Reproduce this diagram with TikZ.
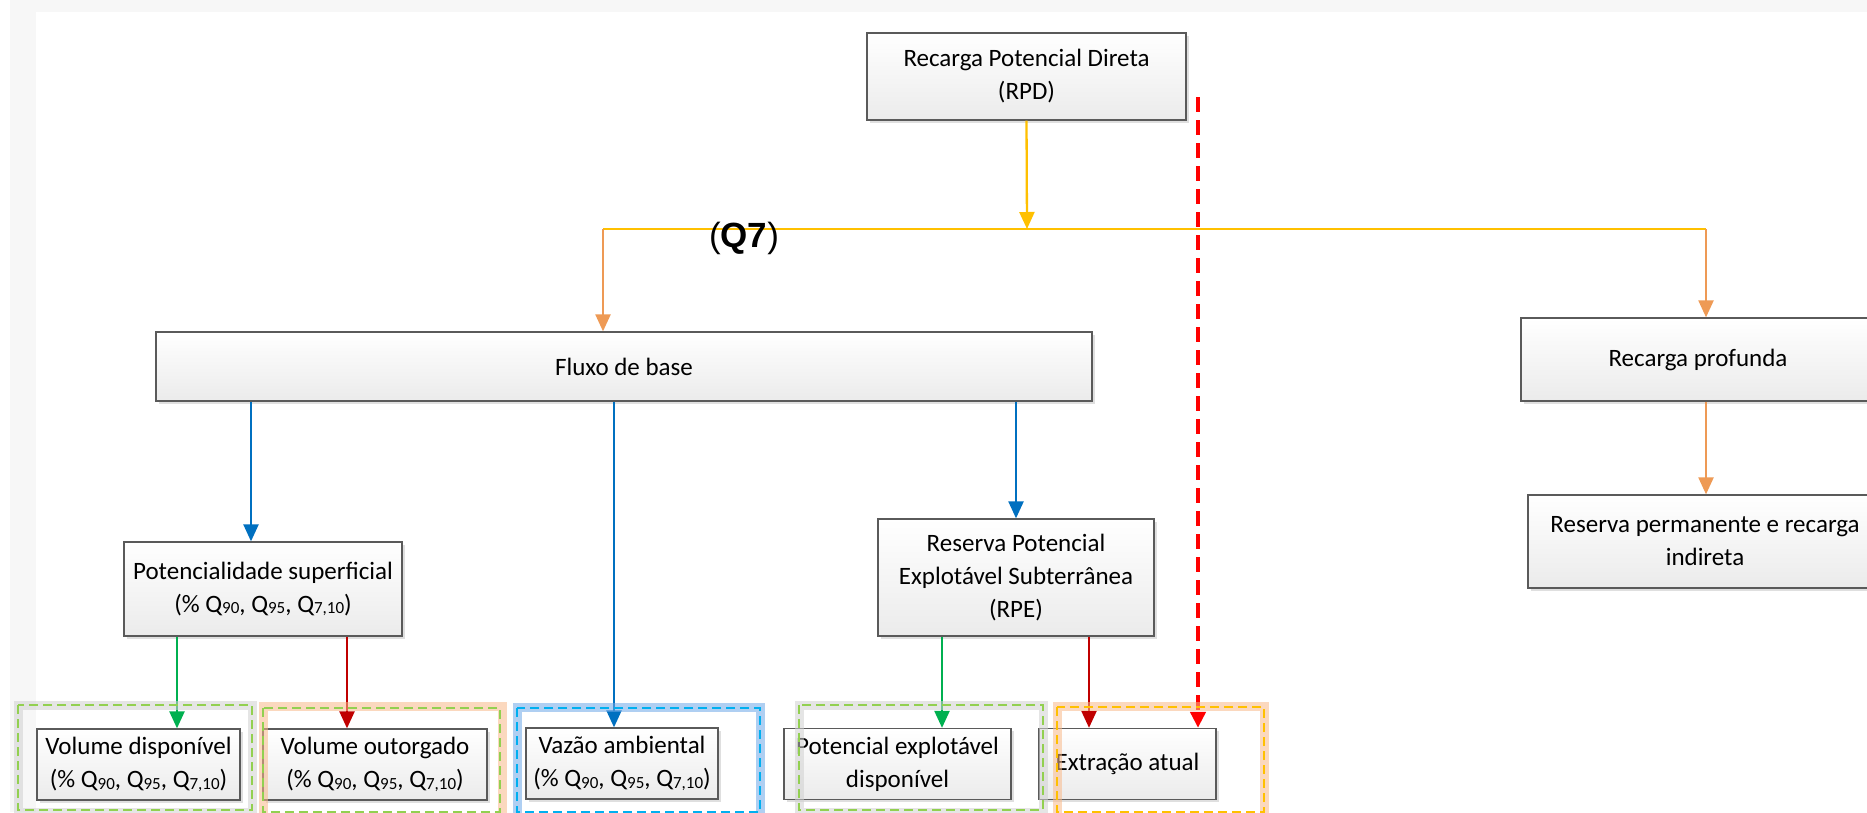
\documentclass[tikz,border=0pt]{standalone}
\usepackage{fontspec}
\setmainfont{Carlito}
\newfontfamily\qfont{Liberation Sans}
\usetikzlibrary{arrows.meta,shadows}
\definecolor{ylw}{HTML}{FFC000}
\definecolor{org}{HTML}{EE9A55}
\definecolor{blu}{HTML}{0070C0}
\definecolor{grn}{HTML}{00B050}
\definecolor{dred}{HTML}{C00000}
\definecolor{rdash}{HTML}{FF0000}
\definecolor{gdash}{HTML}{92D050}
\definecolor{cdash}{HTML}{00B0F0}
\definecolor{ydash}{HTML}{FFC000}
\definecolor{oglow}{HTML}{F9B98A}
\definecolor{bglow}{HTML}{6FA8E8}
\definecolor{gglow}{HTML}{D0D0D0}
\definecolor{boxborder}{HTML}{5A5A5A}
\definecolor{boxbot}{HTML}{EBEBEB}
\definecolor{band}{HTML}{F7F7F7}
\newcommand{\sq}[1]{\raisebox{-1.5pt}{\fontsize{17}{17}\selectfont #1}}
\newcommand{\qset}{(\% Q\sq{90}, Q\sq{95}, Q\sq{7,10})}
\begin{document}
\begin{tikzpicture}[x=1pt,y=-1pt,
  box/.style={draw=boxborder, line width=1.3pt, top color=white, bottom color=boxbot,
    drop shadow={opacity=0.25, shadow xshift=2.5pt, shadow yshift=-2.5pt},
    align=center, font=\fontsize{25}{33}\selectfont, inner sep=0pt, text=black},
  tip/.style={-{Triangle[width=15pt,length=17pt]}},
  ln/.style={line width=2.3pt},
  glowline/.style={line width=9pt, opacity=0.55},
  dashbox/.style={line width=2.4pt, dash pattern=on 9pt off 5pt}
]
\useasboundingbox (0,0) rectangle (1867,812);
\clip (0,0) rectangle (1867,812);
\fill[white] (0,0) rectangle (1867,812);
\fill[band] (10,0) rectangle (1867,12);
\fill[band] (10,0) rectangle (36,812);

% nodes
\node[box, minimum width=319pt, minimum height=87pt] (rpd) at (1026.5,76.5) {Recarga Potencial Direta\\(RPD)};
\node[box, minimum width=936pt, minimum height=69pt] (fluxo) at (624,366.5) {Fluxo de base};
\node[box, minimum width=354pt, minimum height=83pt] (rprof) at (1698,359.5) {Recarga profunda};
\node[box, minimum width=354pt, minimum height=93pt] (rperm) at (1705,541.5) {Reserva permanente e recarga\\indireta};
\node[box, minimum width=278pt, minimum height=94pt] (pot) at (263,589) {Potencialidade superficial\\\qset};
\node[box, minimum width=276pt, minimum height=117pt] (rpe) at (1016,577.5) {Reserva Potencial\\Explotável Subterrânea\\(RPE)};
\node[box, minimum width=203pt, minimum height=71pt] (vdisp) at (138.5,764.5) {Volume disponível\\\qset};
\node[box, minimum width=224pt, minimum height=71pt] (vout) at (375,764.5) {Volume outorgado\\\qset};
\node[box, minimum width=192pt, minimum height=71pt] (vaz) at (622,763.5) {Vazão ambiental\\\qset};
\node[box, minimum width=227pt, minimum height=71pt] (pexp) at (897.5,764) {Potencial explotável\\disponível};
\node[box, minimum width=177pt, minimum height=71pt] (extr) at (1127.5,764) {Extração atual};

% connectors
\coordinate (yl) at (603,229);
\coordinate (yr) at (1706,229);
\coordinate (ym) at (1027,229);
\draw[ln, ylw] (yl) -- (yr);
\draw[ln, ylw, tip] (rpd.south) -- (ym);
\draw[ln, org, tip] (yl) -- (yl |- fluxo.north);
\draw[ln, org, tip] (yr) -- (yr |- rprof.north);
\draw[ln, org, tip] (yr |- rprof.south) -- (yr |- rperm.north);

\coordinate (b1) at (251,0);
\coordinate (b2) at (614,0);
\coordinate (b3) at (1016,0);
\draw[ln, blu, tip] (b1 |- fluxo.south) -- (b1 |- pot.north);
\draw[ln, blu, tip] (b2 |- fluxo.south) -- (b2 |- vaz.north);
\draw[ln, blu, tip] (b3 |- fluxo.south) -- (b3 |- rpe.north);

\coordinate (g1) at (177,0);
\coordinate (r1) at (347,0);
\coordinate (g2) at (942,0);
\coordinate (r2) at (1089,0);
\draw[ln, grn, tip] (g1 |- pot.south) -- (g1 |- vdisp.north);
\draw[ln, dred, tip] (r1 |- pot.south) -- (r1 |- vout.north);
\draw[ln, grn, tip] (g2 |- rpe.south) -- (g2 |- pexp.north);
\draw[ln, dred, tip] (r2 |- rpe.south) -- (r2 |- extr.north);

\coordinate (rdtop) at (1198,97);
\draw[line width=4pt, rdash, dash pattern=on 15pt off 8pt, -{Triangle[width=15pt,length=16pt]}] (rdtop) -- (rdtop |- extr.north);

% glows and dashed frames
\draw[glowline, gglow] (18,705) rectangle (252,812);
\draw[glowline, gglow] (799,705) rectangle (1043,812);
\draw[glowline, oglow] (263,706) rectangle (502,818);
\draw[glowline, bglow] (517,707) rectangle (760,818);
\draw[glowline, oglow] (1057,706) rectangle (1264,818);
\draw[dashbox, gdash] (18,705) rectangle (252,810);
\draw[dashbox, gdash] (263,708) rectangle (500,812);
\draw[dashbox, cdash] (517,708) rectangle (760,812);
\draw[dashbox, gdash] (799,705) rectangle (1043,810);
\draw[dashbox, ydash] (1057,707) rectangle (1264,812);

% label
\node[font=\qfont\fontsize{35}{35}\selectfont, text=black, inner sep=0pt] (q7) at (744,238) {(\textbf{Q7})};
\end{tikzpicture}
\end{document}
